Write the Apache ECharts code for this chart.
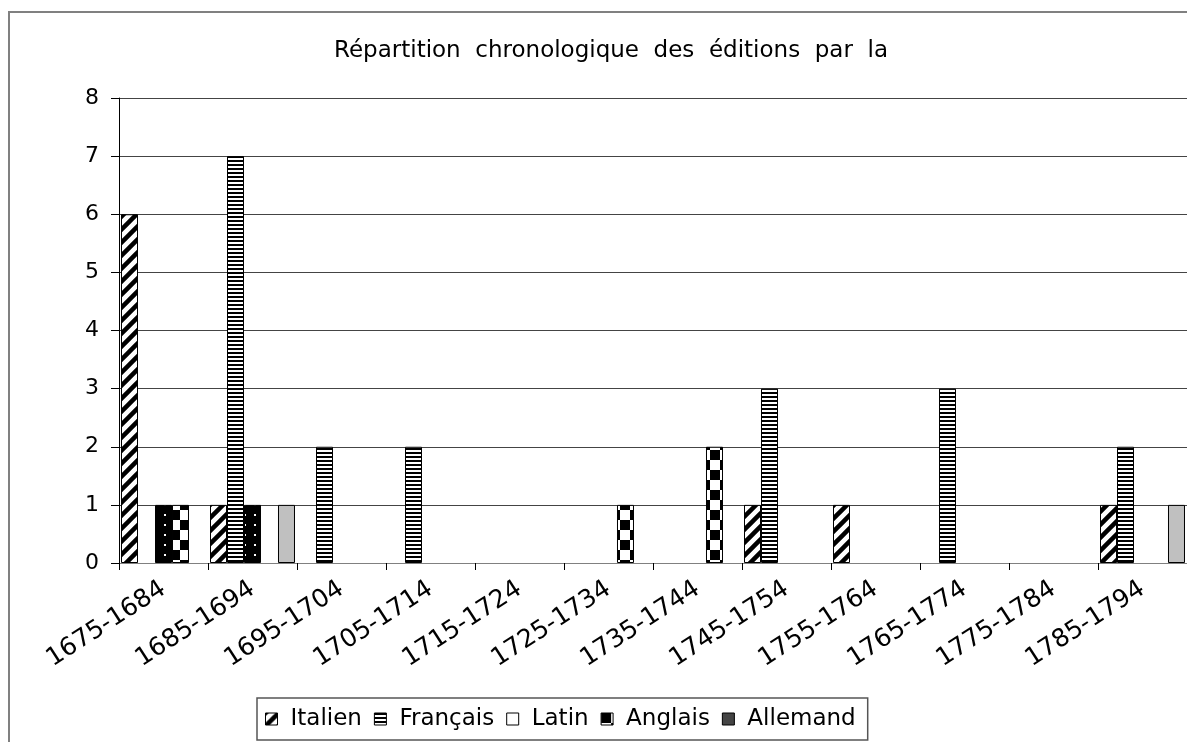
<!DOCTYPE html>
<html>
<head>
<meta charset="utf-8">
<title>Répartition chronologique des éditions</title>
<script src="https://cdn.jsdelivr.net/npm/echarts@6/dist/echarts.min.js"></script>
<style>
  html, body { margin: 0; padding: 0; background: #fff; }
  #chart { width: 1187px; height: 742px; }
</style>
</head>
<body>
<div id="chart"></div>
<script>
// décennies
var periods = ['1675-1684', '1685-1694', '1695-1704', '1705-1714', '1715-1724', '1725-1734',
  '1735-1744', '1745-1754', '1755-1764', '1765-1774', '1775-1784', '1785-1794'];

// nombre d'éditions par langue
var italien  = [6, 1, 0, 0, 0, 0, 0, 1, 1, 0, 0, 1];
var francais = [0, 7, 2, 2, 0, 0, 0, 3, 0, 3, 0, 2];
var latin    = [1, 1, 0, 0, 0, 0, 0, 0, 0, 0, 0, 0];
var anglais  = [1, 0, 0, 0, 0, 1, 2, 0, 0, 0, 0, 0];
var allemand = [0, 1, 0, 0, 0, 0, 0, 0, 0, 0, 0, 1];

var yTicks = [0, 1, 2, 3, 4, 5, 6, 7, 8];

// petits motifs façon Excel
function tile (size, draw) {
  var c = document.createElement('canvas');
  c.width = size;
  c.height = size;
  var ctx = c.getContext('2d');
  ctx.fillStyle = '#fff';
  ctx.fillRect(0, 0, size, size);
  ctx.fillStyle = '#000';
  ctx.strokeStyle = '#000';
  draw(ctx, size);
  return { image: c, repeat: 'repeat' };
}

var diagPattern = tile(13, function (ctx, s) {
  ctx.lineWidth = 4.5;
  ctx.beginPath();
  ctx.moveTo(-3, s + 3); ctx.lineTo(s + 3, -3);
  ctx.moveTo(-3, 3); ctx.lineTo(3, -3);
  ctx.moveTo(s - 3, s + 3); ctx.lineTo(s + 3, s - 3);
  ctx.stroke();
});
var hlinePattern = tile(4, function (ctx) {
  ctx.fillRect(0, 0, 4, 2);
});
var dotPattern = tile(10, function (ctx, s) {
  ctx.fillRect(0, 0, s, s);
  ctx.fillStyle = '#fff';
  ctx.fillRect(4, 4, 2, 2);
});
var checkPattern = tile(20, function (ctx) {
  ctx.fillRect(0, 0, 10, 10);
  ctx.fillRect(10, 10, 10, 10);
});

var font = 'DejaVu Sans';

var chart = echarts.init(document.getElementById('chart'));

function barSeries (name, data, color) {
  return {
    name: name,
    type: 'bar',
    // pas de contour pour les barres nulles
    data: data.map(function (v) {
      return v === 0 ? { value: 0, itemStyle: { borderWidth: 0 } } : v;
    }),
    barGap: '0%',
    barCategoryGap: '4.5%',
    itemStyle: { color: color, borderColor: '#000', borderWidth: 1 },
    emphasis: { disabled: true }
  };
}

chart.setOption({
  backgroundColor: '#fff',
  animation: false,
  title: {
    text: 'Répartition  chronologique  des  éditions  par  la',
    left: 611,
    top: 40,
    padding: 0,
    textAlign: 'center',
    textStyle: { fontFamily: font, fontSize: 23, fontWeight: 'normal', color: '#000' }
  },
  legend: {
    left: 257,
    top: 698,
    padding: [7, 12, 7, 8],
    itemGap: 12,
    itemWidth: 12,
    itemHeight: 12,
    icon: 'rect',
    borderColor: '#555',
    borderWidth: 1.5,
    borderRadius: 0,
    backgroundColor: '#fff',
    selectedMode: false,
    textStyle: { fontFamily: font, fontSize: 23, color: '#000', lineHeight: 28, padding: [0, 0, 0, 8] },
    data: [
      { name: 'Italien', itemStyle: { borderColor: '#000', borderWidth: 1 } },
      { name: 'Français', itemStyle: { borderColor: '#000', borderWidth: 1 } },
      { name: 'Latin', itemStyle: { color: '#fff', borderColor: '#000', borderWidth: 1 } },
      { name: 'Anglais', itemStyle: { borderColor: '#000', borderWidth: 1 } },
      { name: 'Allemand', itemStyle: { color: '#444', borderColor: '#000', borderWidth: 1 } }
    ]
  },
  graphic: [{
    type: 'rect',
    silent: true,
    z: -1,
    shape: { x: 9, y: 12, width: 1200, height: 800 },
    style: { fill: null, stroke: '#808080', lineWidth: 2 }
  }],
  grid: { left: 119, top: 98, bottom: 179, width: 1072 },
  xAxis: {
    type: 'category',
    data: periods,
    boundaryGap: true,
    axisLine: { lineStyle: { color: '#808080', width: 1 } },
    axisTick: { show: true, length: 7, lineStyle: { color: '#000' } },
    axisLabel: {
      interval: 0,
      rotate: 33,
      margin: 24,
      fontFamily: font,
      fontSize: 25,
      color: '#000'
    },
    splitLine: { show: false }
  },
  yAxis: {
    type: 'value',
    min: yTicks[0],
    max: yTicks[yTicks.length - 1],
    interval: 1,
    axisLine: { show: true, lineStyle: { color: '#000', width: 1 } },
    axisTick: { show: true, length: 8, lineStyle: { color: '#000' } },
    axisLabel: { margin: 20, fontFamily: font, fontSize: 22, color: '#000' },
    splitLine: { show: true, lineStyle: { color: '#444', width: 1 } }
  },
  series: [
    barSeries('Italien', italien, diagPattern),
    barSeries('Français', francais, hlinePattern),
    barSeries('Latin', latin, dotPattern),
    barSeries('Anglais', anglais, checkPattern),
    barSeries('Allemand', allemand, '#c0c0c0')
  ]
});
</script>
</body>
</html>
